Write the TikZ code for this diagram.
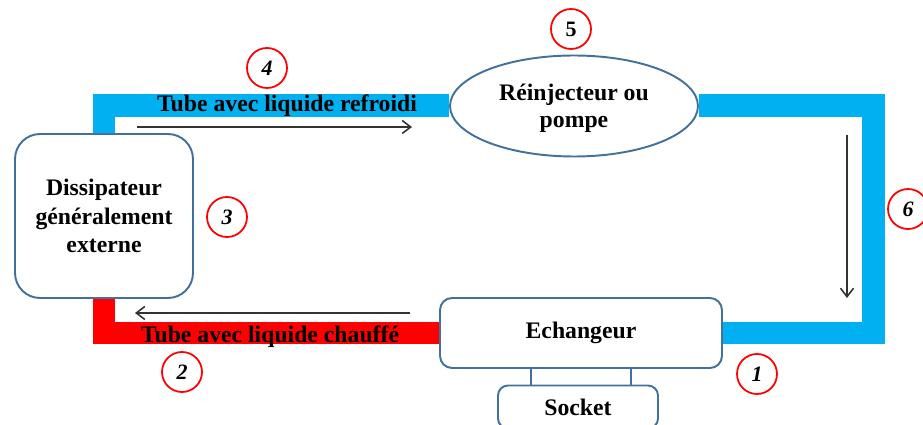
\documentclass[tikz,border=0pt]{standalone}
\usepackage{fontspec}
\setmainfont{Liberation Serif}
\usetikzlibrary{positioning,calc,shapes.geometric,backgrounds,arrows.meta}

\definecolor{tubeblue}{HTML}{00B0F0}
\definecolor{tubered}{HTML}{FF0000}
\definecolor{boxline}{HTML}{41719C}

\begin{document}
\begin{tikzpicture}[
    x=0.02cm, y=-0.02cm,
    block/.style={draw=boxline, line width=1.1pt, fill=white, rounded corners=0.5cm,
        align=center, font=\fontsize{13.5}{16}\selectfont\bfseries},
    pumpbox/.style={draw=boxline, line width=1.1pt, fill=white, ellipse,
        minimum width=4.96cm, minimum height=2.02cm, inner sep=0pt,
        align=center, font=\fontsize{13.5}{15.5}\selectfont\bfseries},
    tube/.style={line width=0.46cm, line join=miter},
    label/.style={font=\fontsize{13.5}{16}\selectfont\bfseries},
    num/.style={draw=tubered, line width=1pt, circle, minimum size=0.8cm, inner sep=0pt,
        font=\fontsize{12.5}{14}\selectfont\bfseries\itshape},
    flow/.style={-{Straight Barb[length=1.7mm, width=2.6mm]}, draw=black!80, line width=0.9pt},
    >=latex
]
\useasboundingbox (0,0) rectangle (923,425);

% Main nodes
\node[block, minimum width=3.56cm, minimum height=3.28cm] (dis) at (104,216)
    {Dissipateur\\g\'en\'eralement\\externe};
\node[pumpbox] (pump) at (574,106) {\rule{0pt}{12pt}R\'einjecteur ou\\pompe};
\node[block, rounded corners=0.24cm, minimum width=5.64cm, minimum height=1.4cm] (ech)
    at (581,333) {Echangeur};
\node[block, rounded corners=0.2cm, minimum width=3.2cm, minimum height=0.86cm] (sock)
    at (578,407) {Socket};

% Tubes
\begin{scope}[on background layer]
\draw[tube, tubeblue] (dis.north) |- (pump.west);
\draw[tube, tubeblue] (pump.east) -| ($(ech.east)+(151,0)$) -- (ech.east);
\draw[tube, tubered] (ech.west) -| (dis.south);
\end{scope}

% Tube labels
\node[label] (cold) at (287,106) {Tube avec liquide refroidi};
\node[label] (hot) at (270,337) {Tube avec liquide chauff\'e};

% Socket legs
\draw[boxline, line width=1.1pt] ([xshift=-1cm]ech.south) -- ([xshift=-1cm]ech.south |- sock.north);
\draw[boxline, line width=1.1pt] ([xshift=1cm]ech.south) -- ([xshift=1cm]ech.south |- sock.north);

% Flow arrows
\coordinate (c1) at (137,127);
\coordinate (c2) at (412,127);
\coordinate (c3) at (847,135);
\coordinate (c4) at (847,298);
\coordinate (h1) at (410,313);
\coordinate (h2) at (135,313);
\draw[flow] (c1) -- (c2);
\draw[flow] (c3) -- (c4);
\draw[flow] (h1) -- (h2);

% Numbers
\node[num] (n1) at (757,374) {1};
\node[num] (n2) at (182,372) {2};
\node[num] (n3) at (227,217) {3};
\node[num] (n4) at (267,68) {4};
\node[num, font=\fontsize{12.5}{14}\selectfont\bfseries] (n5) at (571,29) {5};
\node[num] (n6) at (908,209) {6};

\end{tikzpicture}
\end{document}
